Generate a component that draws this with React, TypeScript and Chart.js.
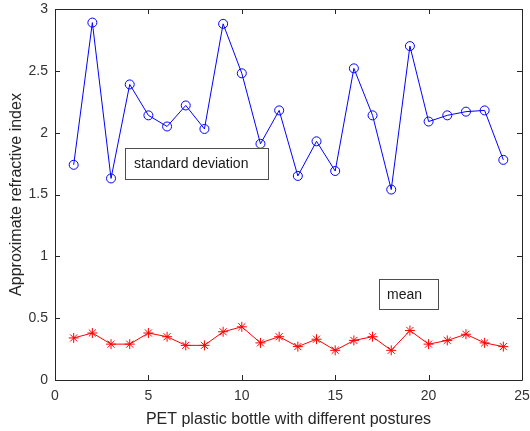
import React, { useEffect, useRef } from "react";
import { Chart, registerables } from "chart.js";

Chart.register(...registerables);

// ---- data ----
const postures: number[] = [1, 2, 3, 4, 5, 6, 7, 8, 9, 10, 11, 12, 13, 14, 15, 16, 17, 18, 19, 20, 21, 22, 23, 24];
const stdValues: number[] = [1.74, 2.89, 1.63, 2.39, 2.14, 2.05, 2.22, 2.03, 2.88, 2.48, 1.91, 2.18, 1.65, 1.93, 1.69, 2.52, 2.14, 1.54, 2.7, 2.09, 2.14, 2.17, 2.18, 1.78];
const meanValues: number[] = [0.34, 0.38, 0.29, 0.29, 0.38, 0.35, 0.28, 0.28, 0.39, 0.43, 0.3, 0.35, 0.27, 0.33, 0.24, 0.32, 0.35, 0.24, 0.4, 0.29, 0.32, 0.37, 0.3, 0.27];
const xTickValues: number[] = [0, 5, 10, 15, 20, 25];
const yTickValues: number[] = [0, 0.5, 1, 1.5, 2, 2.5, 3];
const xTitle = "PET plastic bottle with different postures";
const yTitle = "Approximate refractive index";
const stdLabel = "standard deviation";
const meanLabel = "mean";

const FONT = "'Liberation Sans', Arial, Helvetica, sans-serif";
const AXIS_COLOR = "#262626";
const TEXT_COLOR = "#333333";

const framePlugin = {
  id: "matlabFrame",
  afterDatasetsDraw(chart: any) {
    const { ctx, chartArea } = chart;
    const xs = chart.scales.x;
    const ys = chart.scales.y;
    const { left, right, top, bottom } = chartArea;
    const tl = 5;
    ctx.save();
    ctx.strokeStyle = AXIS_COLOR;
    ctx.lineWidth = 1;
    ctx.beginPath();
    ctx.rect(Math.round(left) + 0.5, Math.round(top) + 0.5, Math.round(right - left), Math.round(bottom - top));
    ctx.stroke();
    ctx.beginPath();
    xTickValues.forEach((v) => {
      const px = Math.round(xs.getPixelForValue(v)) + 0.5;
      ctx.moveTo(px, bottom);
      ctx.lineTo(px, bottom - tl);
      ctx.moveTo(px, top);
      ctx.lineTo(px, top + tl);
    });
    yTickValues.forEach((v) => {
      const py = Math.round(ys.getPixelForValue(v)) + 0.5;
      ctx.moveTo(left, py);
      ctx.lineTo(left + tl, py);
      ctx.moveTo(right, py);
      ctx.lineTo(right - tl, py);
    });
    ctx.stroke();
    ctx.restore();
  },
  afterDraw(chart: any) {
    const { ctx } = chart;
    const xs = chart.scales.x;
    const ys = chart.scales.y;
    const boxes = [
      { text: stdLabel, x: 3.75, y: 1.873, w: 143, h: 31, pad: 9 },
      { text: meanLabel, x: 17.35, y: 0.817, w: 59, h: 30, pad: 8 },
    ];
    ctx.save();
    boxes.forEach((b) => {
      const bx = Math.round(xs.getPixelForValue(b.x));
      const by = Math.round(ys.getPixelForValue(b.y));
      ctx.fillStyle = "#ffffff";
      ctx.fillRect(bx, by, b.w, b.h);
      ctx.strokeStyle = "#4d4d4d";
      ctx.lineWidth = 1;
      ctx.strokeRect(bx + 0.5, by + 0.5, b.w, b.h);
      ctx.fillStyle = "#1a1a1a";
      ctx.font = `14px ${FONT}`;
      ctx.textBaseline = "middle";
      ctx.textAlign = "left";
      ctx.fillText(b.text, bx + b.pad, by + b.h / 2 + 1);
    });
    ctx.restore();
  },
};

export default function App() {
  const canvasRef = useRef<HTMLCanvasElement | null>(null);

  useEffect(() => {
    document.body.style.margin = "0";
    const canvas = canvasRef.current;
    if (!canvas) return;
    const chart = new Chart(canvas, {
      type: "line",
      data: {
        datasets: [
          {
            label: stdLabel,
            data: postures.map((p, i) => ({ x: p, y: stdValues[i] })),
            borderColor: "#0000ff",
            backgroundColor: "rgba(0,0,0,0)",
            borderWidth: 1,
            pointStyle: "circle",
            pointRadius: 4.5,
            pointBorderWidth: 1,
            pointBorderColor: "#0000ff",
            pointBackgroundColor: "rgba(0,0,0,0)",
            tension: 0,
          },
          {
            label: meanLabel,
            data: postures.map((p, i) => ({ x: p, y: meanValues[i] })),
            borderColor: "#ff0000",
            backgroundColor: "rgba(0,0,0,0)",
            borderWidth: 1,
            pointStyle: "star",
            pointRadius: 5,
            pointBorderWidth: 1,
            pointBorderColor: "#ff0000",
            pointBackgroundColor: "rgba(0,0,0,0)",
            tension: 0,
          },
        ],
      },
      options: {
        responsive: false,
        animation: false,
        devicePixelRatio: 1,
        layout: { padding: { top: 9, right: 8, left: 0, bottom: 0 } },
        plugins: {
          legend: { display: false },
          tooltip: { enabled: false },
        },
        scales: {
          x: {
            type: "linear",
            min: 0,
            max: 25,
            afterFit: (s: any) => {
              s.height = 51;
              s.paddingLeft = 0;
              s.paddingRight = 0;
            },
            afterBuildTicks: (s: any) => {
              s.ticks = xTickValues.map((v) => ({ value: v }));
            },
            ticks: {
              color: TEXT_COLOR,
              font: { family: FONT, size: 14 },
              padding: 8,
              maxRotation: 0,
              callback: (v: any) => String(v),
            },
            grid: { display: false, drawTicks: false },
            border: { display: false },
            title: {
              display: true,
              text: xTitle,
              color: "#262626",
              font: { family: FONT, size: 16 },
              padding: { top: 0, bottom: 2 },
            },
          },
          y: {
            type: "linear",
            min: 0,
            max: 3,
            afterFit: (s: any) => {
              s.width = 55;
              s.paddingTop = 0;
              s.paddingBottom = 0;
            },
            afterBuildTicks: (s: any) => {
              s.ticks = yTickValues.map((v) => ({ value: v }));
            },
            ticks: {
              color: TEXT_COLOR,
              font: { family: FONT, size: 14 },
              padding: 7,
              callback: (v: any) => String(v),
            },
            grid: { display: false, drawTicks: false },
            border: { display: false },
            title: {
              display: true,
              text: yTitle,
              color: "#262626",
              font: { family: FONT, size: 16 },
              padding: { top: 7, bottom: 0 },
            },
          },
        },
      },
      plugins: [framePlugin],
    } as any);
    return () => {
      chart.destroy();
    };
  }, []);

  return (
    <div style={{ position: "fixed", left: 0, top: 0, width: 530, height: 431, background: "#fff" }}>
      <canvas ref={canvasRef} width={530} height={431} style={{ width: 530, height: 431, display: "block" }} />
    </div>
  );
}
